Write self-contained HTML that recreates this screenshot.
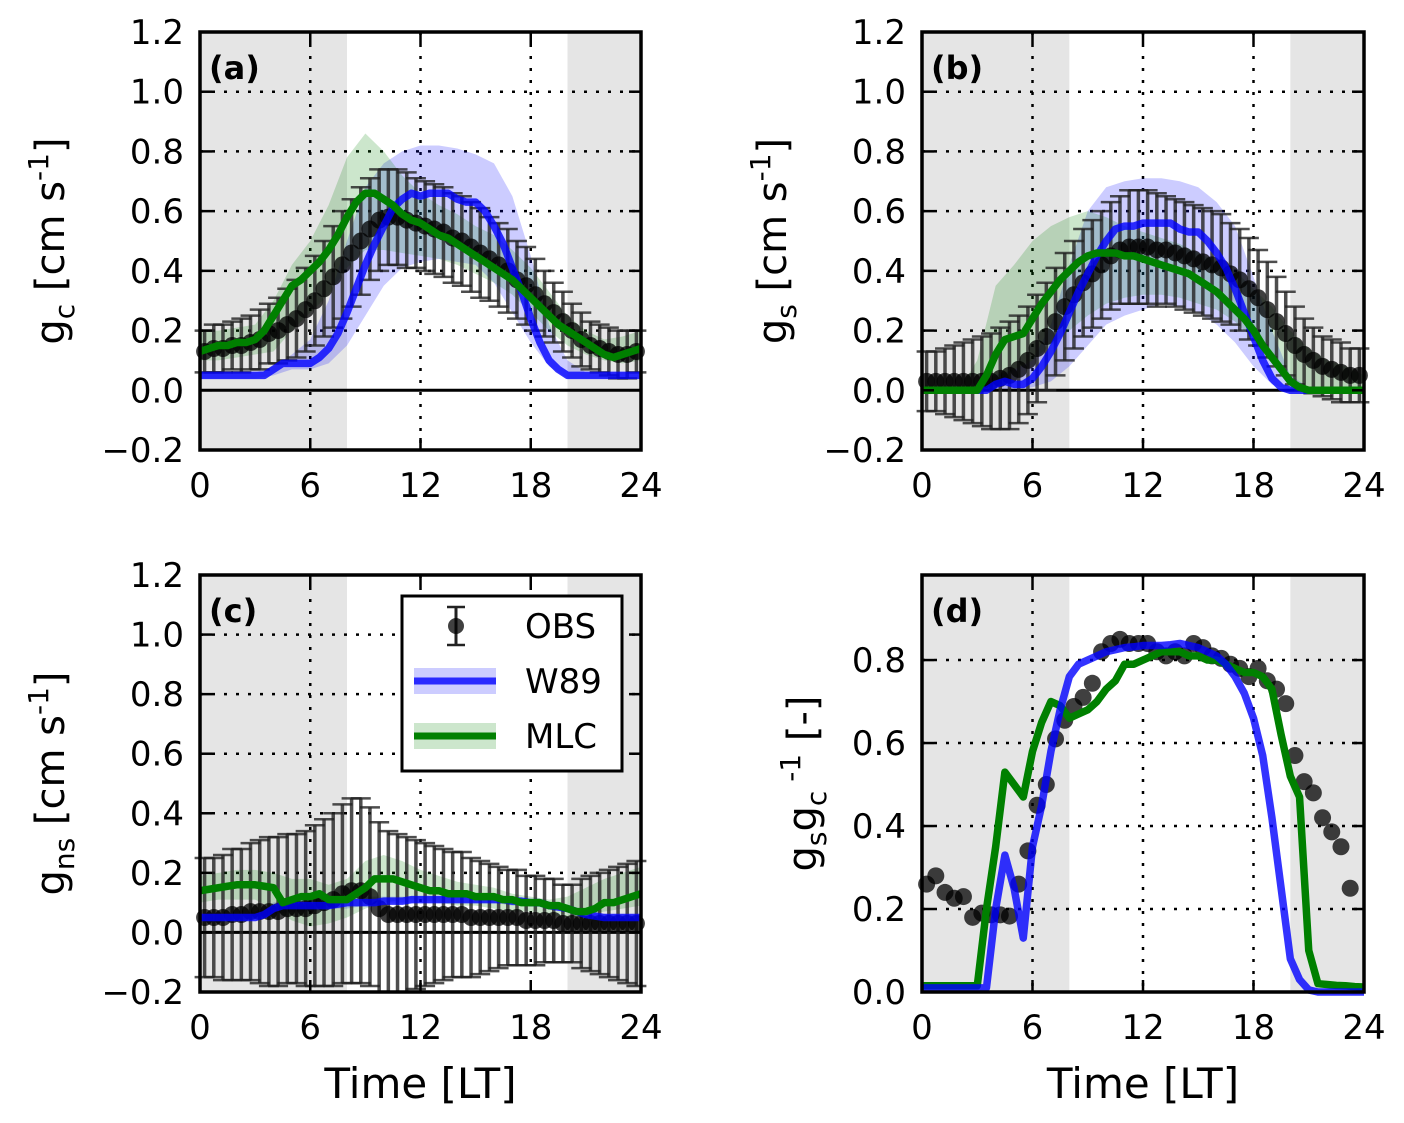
<!DOCTYPE html>
<html><head><meta charset="utf-8"><style>
body{margin:0;background:#fff}
svg{display:block;font-family:"DejaVu Sans","Liberation Sans",sans-serif}
</style></head><body>
<svg id="fig" width="1404" height="1123" viewBox="0 0 1404 1123" xmlns="http://www.w3.org/2000/svg"></svg>
<script>
const xTicks=[0,6,12,18,24];
const yTicksABC=[-0.2,0.0,0.2,0.4,0.6,0.8,1.0,1.2];
const yTicksD=[0.0,0.2,0.4,0.6,0.8];
// observations (half-hourly, t = 0.25 + 0.5*i)
const obsA=[0.13,0.14,0.14,0.15,0.15,0.16,0.17,0.19,0.2,0.22,0.24,0.27,0.3,0.34,0.38,0.42,0.46,0.5,0.54,0.57,0.58,0.58,0.57,0.56,0.55,0.54,0.53,0.51,0.5,0.48,0.46,0.44,0.42,0.4,0.37,0.35,0.32,0.29,0.26,0.23,0.2,0.17,0.15,0.14,0.13,0.12,0.12,0.13];
const errA=[0.07,0.08,0.08,0.08,0.09,0.09,0.1,0.1,0.11,0.12,0.13,0.14,0.15,0.16,0.17,0.18,0.18,0.18,0.17,0.17,0.16,0.16,0.16,0.15,0.15,0.15,0.15,0.15,0.15,0.15,0.15,0.14,0.14,0.14,0.13,0.13,0.12,0.11,0.1,0.1,0.09,0.09,0.08,0.08,0.08,0.08,0.08,0.07];
const obsB=[0.03,0.03,0.03,0.03,0.03,0.03,0.03,0.03,0.04,0.05,0.07,0.1,0.14,0.18,0.23,0.28,0.32,0.36,0.39,0.42,0.45,0.47,0.48,0.48,0.48,0.47,0.47,0.46,0.45,0.44,0.43,0.42,0.41,0.39,0.37,0.34,0.31,0.27,0.23,0.19,0.15,0.12,0.1,0.08,0.07,0.06,0.05,0.05];
const errB=[0.1,0.1,0.11,0.12,0.13,0.14,0.15,0.16,0.17,0.18,0.18,0.18,0.18,0.18,0.18,0.18,0.18,0.18,0.18,0.18,0.18,0.18,0.19,0.19,0.19,0.19,0.18,0.18,0.18,0.18,0.18,0.18,0.18,0.17,0.17,0.17,0.16,0.16,0.15,0.14,0.13,0.12,0.11,0.1,0.1,0.1,0.09,0.09];
const obsC=[0.05,0.05,0.05,0.06,0.06,0.07,0.07,0.07,0.07,0.08,0.08,0.08,0.09,0.1,0.11,0.13,0.14,0.14,0.12,0.08,0.06,0.06,0.06,0.06,0.06,0.06,0.06,0.06,0.06,0.05,0.05,0.05,0.05,0.05,0.05,0.04,0.04,0.04,0.04,0.03,0.03,0.03,0.03,0.03,0.03,0.03,0.03,0.03];
const errC=[0.2,0.2,0.21,0.22,0.22,0.23,0.24,0.25,0.25,0.25,0.25,0.26,0.27,0.28,0.29,0.3,0.31,0.31,0.3,0.29,0.28,0.27,0.26,0.25,0.24,0.23,0.22,0.21,0.21,0.2,0.19,0.18,0.17,0.16,0.16,0.15,0.15,0.14,0.14,0.13,0.13,0.15,0.16,0.17,0.18,0.19,0.2,0.21];
const obsD=[0.26,0.28,0.24,0.226,0.23,0.18,0.19,0.186,0.186,0.183,0.26,0.34,0.45,0.5,0.61,0.655,0.688,0.71,0.744,0.82,0.84,0.85,0.84,0.84,0.84,0.82,0.81,0.82,0.81,0.84,0.83,0.81,0.804,0.79,0.78,0.76,0.78,0.75,0.73,0.695,0.57,0.507,0.48,0.42,0.386,0.35,0.25];
// model lines (half-hourly, t = 0.5*i, 0..24)
const w89A=[0.05,0.05,0.05,0.05,0.05,0.05,0.05,0.05,0.07,0.09,0.09,0.09,0.09,0.11,0.14,0.19,0.26,0.34,0.42,0.49,0.55,0.61,0.64,0.66,0.65,0.66,0.66,0.66,0.64,0.63,0.63,0.6,0.55,0.49,0.41,0.33,0.24,0.16,0.1,0.07,0.05,0.05,0.05,0.05,0.05,0.05,0.05,0.05,0.05];
const mlcA=[0.13,0.14,0.15,0.15,0.16,0.16,0.17,0.2,0.25,0.3,0.35,0.37,0.4,0.43,0.47,0.52,0.58,0.63,0.66,0.66,0.64,0.62,0.59,0.57,0.56,0.54,0.52,0.51,0.49,0.47,0.45,0.43,0.41,0.39,0.37,0.34,0.31,0.28,0.25,0.22,0.2,0.18,0.16,0.14,0.12,0.11,0.12,0.13,0.14];
const w89B=[0,0,0,0,0,0,0,0,0.02,0.03,0.02,0.02,0.04,0.08,0.13,0.19,0.26,0.33,0.39,0.45,0.5,0.54,0.55,0.55,0.56,0.56,0.56,0.56,0.54,0.53,0.53,0.5,0.46,0.41,0.34,0.26,0.18,0.1,0.04,0.01,0,0,0,0,0,0,0,0,0];
const mlcB=[0,0,0,0,0,0,0,0.05,0.12,0.17,0.18,0.19,0.24,0.29,0.33,0.37,0.4,0.43,0.45,0.46,0.46,0.46,0.45,0.45,0.44,0.43,0.42,0.41,0.4,0.39,0.37,0.35,0.33,0.3,0.27,0.24,0.2,0.15,0.11,0.07,0.03,0.01,0,0,0,0,0,0,0];
const w89C=[0.05,0.05,0.05,0.05,0.05,0.05,0.05,0.06,0.08,0.09,0.09,0.09,0.09,0.09,0.09,0.095,0.1,0.1,0.1,0.1,0.105,0.105,0.105,0.11,0.11,0.11,0.11,0.11,0.11,0.11,0.11,0.11,0.11,0.11,0.105,0.105,0.1,0.1,0.09,0.085,0.08,0.07,0.06,0.055,0.05,0.05,0.05,0.05,0.05];
const mlcC=[0.14,0.145,0.15,0.155,0.16,0.16,0.16,0.155,0.15,0.1,0.11,0.12,0.12,0.13,0.11,0.11,0.11,0.13,0.15,0.18,0.18,0.18,0.17,0.16,0.15,0.14,0.14,0.13,0.13,0.13,0.12,0.12,0.12,0.11,0.11,0.1,0.1,0.1,0.09,0.09,0.08,0.07,0.07,0.08,0.1,0.1,0.11,0.12,0.13];
const w89D=[0.01,0.01,0.01,0.01,0.01,0.01,0.01,0.01,0.2,0.33,0.25,0.13,0.35,0.45,0.58,0.68,0.76,0.79,0.8,0.81,0.82,0.825,0.83,0.832,0.835,0.835,0.835,0.837,0.84,0.835,0.83,0.82,0.81,0.79,0.76,0.72,0.66,0.57,0.42,0.25,0.08,0.03,0.005,0,0,0,0,0,0];
const mlcD=[0.015,0.015,0.015,0.015,0.015,0.015,0.015,0.2,0.35,0.53,0.5,0.47,0.58,0.65,0.7,0.69,0.66,0.67,0.68,0.7,0.73,0.75,0.79,0.79,0.8,0.81,0.82,0.82,0.82,0.81,0.81,0.8,0.8,0.79,0.78,0.77,0.77,0.76,0.73,0.62,0.52,0.47,0.1,0.02,0.018,0.016,0.015,0.013,0.012];
// uncertainty bands (hourly, t = 0..24)
const w89AUp=[0.06,0.06,0.06,0.06,0.08,0.12,0.17,0.3,0.5,0.68,0.76,0.8,0.82,0.82,0.81,0.79,0.76,0.65,0.45,0.22,0.1,0.06,0.06,0.06,0.06];
const w89ALo=[0.04,0.04,0.04,0.04,0.05,0.07,0.07,0.09,0.15,0.25,0.35,0.41,0.43,0.44,0.43,0.42,0.36,0.26,0.16,0.08,0.04,0.04,0.04,0.04,0.04];
const mlcAUp=[0.2,0.2,0.21,0.22,0.3,0.42,0.5,0.62,0.78,0.86,0.8,0.72,0.66,0.62,0.59,0.55,0.52,0.47,0.41,0.33,0.25,0.2,0.17,0.18,0.2];
const mlcALo=[0.1,0.1,0.11,0.12,0.13,0.2,0.26,0.32,0.41,0.47,0.47,0.46,0.45,0.44,0.42,0.39,0.36,0.32,0.26,0.2,0.15,0.12,0.1,0.09,0.1];
const w89BUp=[0,0,0,0,0.05,0.07,0.1,0.22,0.42,0.6,0.68,0.7,0.71,0.71,0.7,0.68,0.63,0.55,0.38,0.2,0.05,0.01,0,0,0];
const w89BLo=[0,0,0,0,0,0,0.01,0.03,0.08,0.15,0.22,0.25,0.27,0.29,0.28,0.26,0.22,0.16,0.08,0.02,0,0,0,0,0];
const mlcBUp=[0,0,0,0.1,0.35,0.42,0.5,0.55,0.58,0.6,0.58,0.55,0.53,0.51,0.49,0.46,0.43,0.4,0.34,0.28,0.2,0.14,0.1,0.08,0.05];
const mlcBLo=[0,0,0,0,0.02,0.07,0.1,0.15,0.2,0.25,0.29,0.31,0.32,0.32,0.31,0.29,0.27,0.23,0.17,0.1,0.04,0.01,0,0,0];
const w89CUp=[0.06,0.06,0.06,0.07,0.1,0.11,0.11,0.11,0.12,0.12,0.12,0.12,0.12,0.12,0.12,0.12,0.12,0.12,0.11,0.1,0.09,0.07,0.06,0.06,0.06];
const w89CLo=[0.04,0.04,0.04,0.05,0.06,0.07,0.07,0.08,0.08,0.09,0.1,0.1,0.1,0.1,0.1,0.1,0.1,0.09,0.09,0.08,0.07,0.05,0.04,0.04,0.04];
const mlcCUp=[0.19,0.2,0.21,0.21,0.2,0.18,0.18,0.16,0.18,0.24,0.26,0.24,0.21,0.19,0.17,0.16,0.15,0.13,0.12,0.11,0.12,0.15,0.18,0.2,0.22];
const mlcCLo=[0.1,0.11,0.11,0.11,0.08,0.04,0.02,0.03,0.05,0.08,0.1,0.11,0.11,0.1,0.09,0.09,0.08,0.07,0.07,0.06,0.05,0.06,0.07,0.08,0.09];

const NS='http://www.w3.org/2000/svg';
const svg=document.getElementById('fig');
function mk(tag,attrs,parent){const e=document.createElementNS(NS,tag);for(const k in attrs)e.setAttribute(k,attrs[k]);(parent||svg).appendChild(e);return e;}

function panel(cfg){
  const g=mk('g',{});
  
  
  const X=t=>cfg.x0+(t/24)*(cfg.x1-cfg.x0);
  const Y=v=>cfg.y1-(v-cfg.ymin)/(cfg.ymax-cfg.ymin)*(cfg.y1-cfg.y0);
  const s1=mk('rect',{x:X(0),y:cfg.y0,width:X(8)-X(0),height:cfg.y1-cfg.y0,fill:'#e5e5e5'},g);
  
  
  const s2=mk('rect',{x:X(20),y:cfg.y0,width:X(24)-X(20),height:cfg.y1-cfg.y0,fill:'#e5e5e5'},g);
  
  
  xTicks.forEach(t=>{mk('line',{x1:X(t),x2:X(t),y1:cfg.y0,y2:cfg.y1,stroke:'#000','stroke-width':2.5,'stroke-dasharray':'3,9'},g);});
  cfg.yt.forEach(v=>{mk('line',{x1:cfg.x0,x2:cfg.x1,y1:Y(v),y2:Y(v),stroke:'#000','stroke-width':2.5,'stroke-dasharray':'3,9'},g);});
  function band(up,lo,col,nm){
    let d='';up.forEach((v,i)=>{d+=(i?'L':'M')+X(i)+','+Y(v);});
    for(let i=lo.length-1;i>=0;i--)d+='L'+X(i)+','+Y(lo[i]);
    const p=mk('path',{d:d+'Z',fill:col,'fill-opacity':0.2,stroke:'none'},g);
    
    
  }
  if(cfg.bands){band(cfg.bands[0],cfg.bands[1],'#0000ff','w89-band');band(cfg.bands[2],cfg.bands[3],'#008000','mlc-band');}
  if(cfg.zero){mk('line',{x1:cfg.x0,x2:cfg.x1,y1:Y(0),y2:Y(0),stroke:'#000','stroke-width':3},g);}
  const og=mk('g',{},g);
  
  
  cfg.obs.forEach((v,i)=>{
    const t=0.25+0.5*i;
    if(cfg.err){const e=cfg.err[i];
      mk('line',{x1:X(t),x2:X(t),y1:Y(Math.min(v+e,cfg.ymax)),y2:Y(Math.max(v-e,cfg.ymin)),stroke:'#222','stroke-opacity':0.8,'stroke-width':3.5},og);
      if(v+e<=cfg.ymax)mk('line',{x1:X(t)-10,x2:X(t)+10,y1:Y(v+e),y2:Y(v+e),stroke:'#222','stroke-opacity':0.8,'stroke-width':2.5},og);
      if(v-e>=cfg.ymin)mk('line',{x1:X(t)-10,x2:X(t)+10,y1:Y(v-e),y2:Y(v-e),stroke:'#222','stroke-opacity':0.8,'stroke-width':2.5},og);
    }
    const c=mk('circle',{cx:X(t),cy:Y(v),r:8.5,fill:'#000','fill-opacity':0.75},og);
    
    
  });
  function line(arr,col,nm,op){
    let d='';arr.forEach((v,i)=>{d+=(i?'L':'M')+X(0.5*i)+','+Y(v);});
    const p=mk('path',{d:d,fill:'none',stroke:col,'stroke-opacity':op,'stroke-width':7.5,'stroke-linejoin':'round'},g);
    
    
  }
  if(cfg.name==='panel-d'){line(cfg.mlc,'#008000','mlc-line',1);line(cfg.w89,'#0000ff','w89-line',0.8);}
  else{line(cfg.w89,'#0000ff','w89-line',0.8);line(cfg.mlc,'#008000','mlc-line',1);}
  mk('rect',{x:cfg.x0,y:cfg.y0,width:cfg.x1-cfg.x0,height:cfg.y1-cfg.y0,fill:'none',stroke:'#000','stroke-width':3.5},g);
  xTicks.forEach(t=>{
    mk('line',{x1:X(t),x2:X(t),y1:cfg.y1,y2:cfg.y1-12,stroke:'#000','stroke-width':2.5},g);
    mk('line',{x1:X(t),x2:X(t),y1:cfg.y0,y2:cfg.y0+12,stroke:'#000','stroke-width':2.5},g);
    const tx=mk('text',{x:X(t),y:cfg.y1+47,'font-size':34,'text-anchor':'middle'},g);
    tx.textContent=t;
    
    
  });
  cfg.yt.forEach(v=>{
    mk('line',{x1:cfg.x0,x2:cfg.x0+12,y1:Y(v),y2:Y(v),stroke:'#000','stroke-width':2.5},g);
    mk('line',{x1:cfg.x1,x2:cfg.x1-12,y1:Y(v),y2:Y(v),stroke:'#000','stroke-width':2.5},g);
    const tx=mk('text',{x:cfg.x0-16,y:Y(v)+12,'font-size':34,'text-anchor':'end'},g);
    tx.textContent=(v<0?'\u2212':'')+Math.abs(v).toFixed(1);
    
    
  });
  const lb=mk('text',{x:cfg.x0+9,y:cfg.y0+47,'font-size':32,'font-weight':'bold'},g);
  lb.textContent=cfg.label;
  
  
  const yl=mk('text',{transform:`translate(${cfg.ylx},${(cfg.y0+cfg.y1)/2}) rotate(-90)`,'font-size':40,'text-anchor':'middle'},g);
  yl.innerHTML=cfg.ylab;
  
  
  if(cfg.xl){const xl=mk('text',{x:(cfg.x0+cfg.x1)/2,y:1098,'font-size':42,'text-anchor':'middle'},g);
    xl.textContent='Time [LT]';
    
    }
}
const gcLab='g<tspan dy="10" font-size="28">c</tspan><tspan dy="-10"> [cm s</tspan><tspan dy="-16" font-size="28">-1</tspan><tspan dy="16">]</tspan>';
panel({name:'panel-a',label:'(a)',x0:200,x1:641,y0:32,y1:450,ymin:-0.2,ymax:1.2,yt:yTicksABC,zero:true,obs:obsA,err:errA,w89:w89A,mlc:mlcA,bands:[w89AUp,w89ALo,mlcAUp,mlcALo],ylx:64,ylab:gcLab});
panel({name:'panel-b',label:'(b)',x0:922,x1:1364,y0:32,y1:450,ymin:-0.2,ymax:1.2,yt:yTicksABC,zero:true,obs:obsB,err:errB,w89:w89B,mlc:mlcB,bands:[w89BUp,w89BLo,mlcBUp,mlcBLo],ylx:786,ylab:'g<tspan dy="10" font-size="28">s</tspan><tspan dy="-10"> [cm s</tspan><tspan dy="-16" font-size="28">-1</tspan><tspan dy="16">]</tspan>'});
panel({name:'panel-c',label:'(c)',x0:200,x1:641,y0:575,y1:992,ymin:-0.2,ymax:1.2,yt:yTicksABC,zero:true,obs:obsC,err:errC,w89:w89C,mlc:mlcC,bands:[w89CUp,w89CLo,mlcCUp,mlcCLo],ylx:64,xl:true,ylab:'g<tspan dy="10" font-size="28">ns</tspan><tspan dy="-10"> [cm s</tspan><tspan dy="-16" font-size="28">-1</tspan><tspan dy="16">]</tspan>'});
panel({name:'panel-d',label:'(d)',x0:922,x1:1364,y0:575,y1:992,ymin:0,ymax:1.005,yt:yTicksD,zero:false,obs:obsD,err:null,w89:w89D,mlc:mlcD,bands:null,ylx:816,xl:true,ylab:'g<tspan dy="10" font-size="28">s</tspan><tspan dy="-10">g</tspan><tspan dy="10" font-size="28">c</tspan><tspan dy="-26" font-size="28"> -1</tspan><tspan dy="16"> [-]</tspan>'});
const lg=mk('g',{});


mk('rect',{x:402,y:596,width:220,height:175,fill:'#fff',stroke:'#000','stroke-width':3},lg);
mk('line',{x1:456,x2:456,y1:607,y2:645,stroke:'#222','stroke-width':3},lg);
mk('line',{x1:447,x2:465,y1:607,y2:607,stroke:'#222','stroke-width':2.5},lg);
mk('line',{x1:447,x2:465,y1:645,y2:645,stroke:'#222','stroke-width':2.5},lg);
mk('circle',{cx:456,cy:626,r:8,fill:'#000','fill-opacity':0.75},lg);
mk('rect',{x:414,y:668,width:82,height:26,fill:'#0000ff','fill-opacity':0.2},lg);
mk('line',{x1:414,x2:496,y1:681,y2:681,stroke:'#0000ff','stroke-opacity':0.8,'stroke-width':7},lg);
mk('rect',{x:414,y:723,width:82,height:26,fill:'#008000','fill-opacity':0.2},lg);
mk('line',{x1:414,x2:496,y1:736,y2:736,stroke:'#008000','stroke-width':7},lg);
[['OBS',638],['W89',693],['MLC',748]].forEach(([t,y])=>{const e=mk('text',{x:525,y:y,'font-size':34},lg);e.textContent=t;

});
</script>
</body></html>
